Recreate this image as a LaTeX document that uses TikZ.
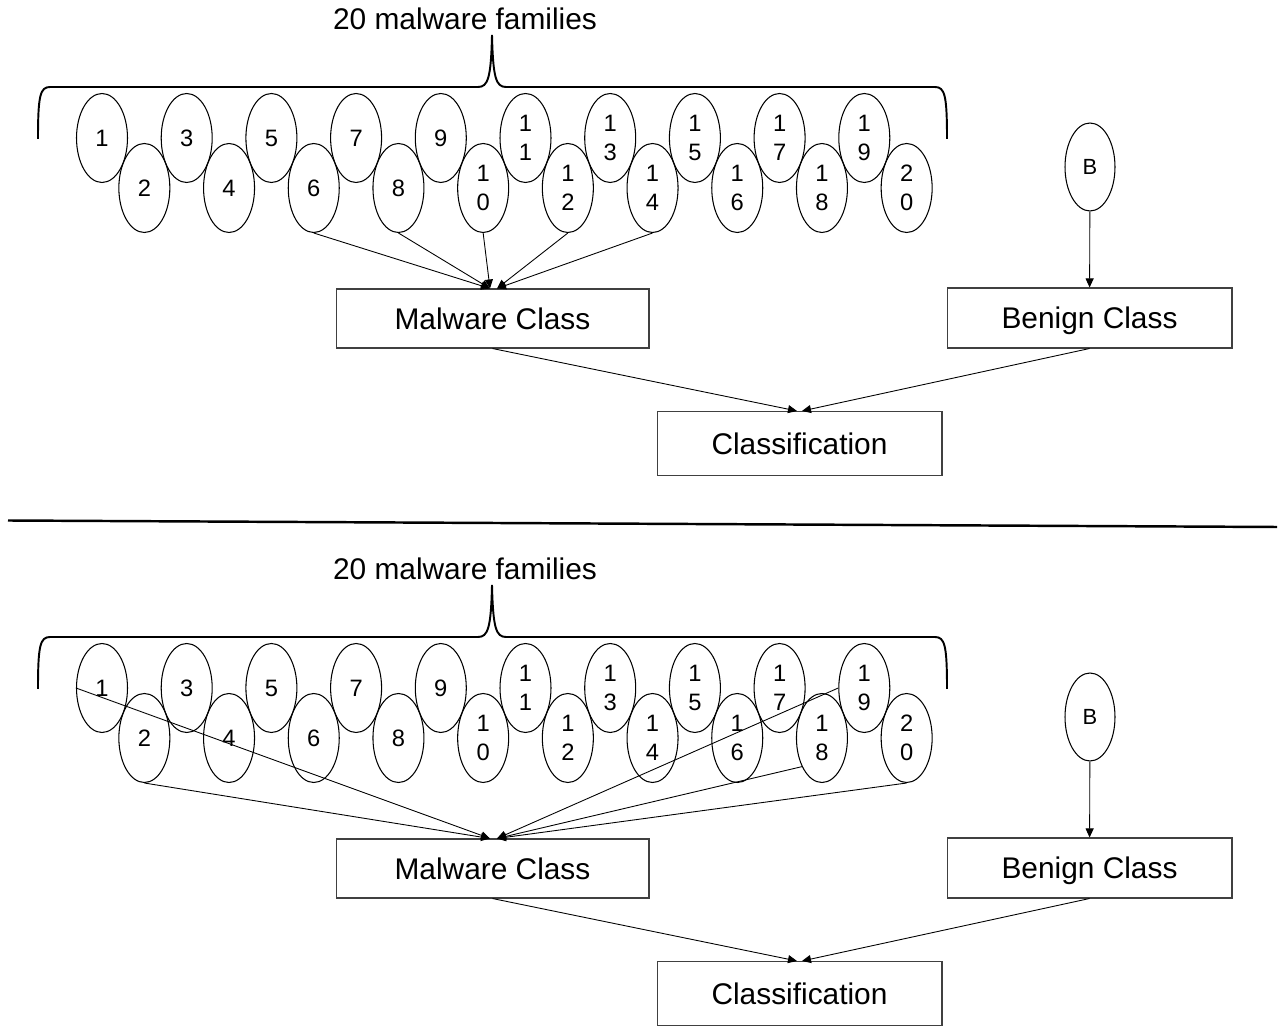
\documentclass[tikz,border=0pt]{standalone}
\usepackage{fontspec}
\setmainfont{Liberation Sans}
\usetikzlibrary{arrows.meta,shapes.geometric}

\begin{document}
\begin{tikzpicture}[
  x=0.02cm, y=-0.02cm,
  family/.style={draw, ellipse, line width=0.6pt, inner sep=0pt,
    minimum width=1.02cm, minimum height=1.78cm, align=center,
    font=\fontsize{13.5}{16.4}\selectfont},
  benign/.style={family, minimum width=1cm, minimum height=1.76cm,
    font=\fontsize{12.5}{14}\selectfont},
  classbox/.style={draw=black!75, line width=0.6pt, inner sep=0pt, text depth=0pt,
    font=\fontsize{17}{20}\selectfont},
  heading/.style={font=\fontsize{17}{20}\selectfont},
  link/.style={line width=0.5pt, -{Triangle[length=1.8mm,width=1.6mm]}},
  brace/.style={line width=1.1pt},
  divider/.style={line width=1.4pt}
]
\useasboundingbox (0,0) rectangle (1285,1026);

% Panel geometry (pixel units, y downwards)
\def\famStep{42.35}
\def\famX{102}
\def\panelShift{550}

% ---------- one panel: families, brace, class boxes ----------
\newcommand{\drawPanel}[1]{% #1 = name prefix
  \node[heading] (#1Title) at (465,19) {20 malware families};
  \draw[brace] (38,139) .. controls (38,96) and (40,87) .. (50,87) -- (478,87)
    .. controls (488,87) and (491,78) .. (492,35)
    .. controls (493,78) and (496,87) .. (506,87) -- (935,87)
    .. controls (945,87) and (947,96) .. (947,139);

  % odd families (upper row)
  \foreach \n/\t in {1/1,3/3,5/5,7/7,9/9,11/{1\\1},13/{1\\3},15/{1\\5},17/{1\\7},19/{1\\9}}
    \node[family] (#1\n) at ({\famX+(\n-1)*\famStep},138) {\t};
  % even families (lower row)
  \foreach \n/\t in {2/2,4/4,6/6,8/8,10/{1\\0},12/{1\\2},14/{1\\4},16/{1\\6},18/{1\\8},20/{2\\0}}
    \node[family] (#1\n) at ({\famX+(\n-1)*\famStep},188) {\t};

  \node[benign] (#1B) at (1090,167) {B};

  \node[classbox, minimum width=6.26cm, minimum height=1.18cm] (#1Mal) at (492.5,318.5) {Malware Class};
  \node[classbox, minimum width=5.7cm, minimum height=1.2cm] (#1Ben) at (1089.5,318) {Benign Class};
  \node[classbox, minimum width=5.7cm, minimum height=1.28cm] (#1Cls) at (799.5,443.5) {Classification};

  \coordinate (#1HitL) at ([xshift=-0.05cm]#1Mal.north);
  \coordinate (#1HitR) at ([xshift=0.09cm]#1Mal.north);
  \coordinate (#1ClsL) at ([xshift=-0.05cm]#1Cls.north);
  \coordinate (#1ClsR) at ([xshift=0.05cm]#1Cls.north);

  \draw[link] (#1B) -- (#1Ben);
  \draw[link] (#1Mal.south) -- (#1ClsL);
  \draw[link] (#1Ben.south) -- (#1ClsR);
}

% =========================================================
% UPPER PANEL
% =========================================================
\drawPanel{up}
\draw[link] (up6.south) -- (upHitL);
\draw[link] (up8.south) -- (upHitL);
\draw[link] (up10.south) -- (upHitL);
\draw[link] (up12.south) -- (upHitR);
\draw[link] (up14.south) -- (upHitR);

% separator
\draw[divider] (8,520.5) -- (1277,527);

% =========================================================
% LOWER PANEL
% =========================================================
\begin{scope}[shift={(0,\panelShift)}]
  \drawPanel{lo}
  \draw[link] (lo1.west) -- (loHitL);
  \draw[link] (lo2.south) -- (loHitL);
  \draw[link] (lo18.235) -- (loHitR);
  \draw[link] (lo19.west) -- (loHitR);
  \draw[link] (lo20.south) -- (loHitR);
\end{scope}
\end{tikzpicture}
\end{document}
